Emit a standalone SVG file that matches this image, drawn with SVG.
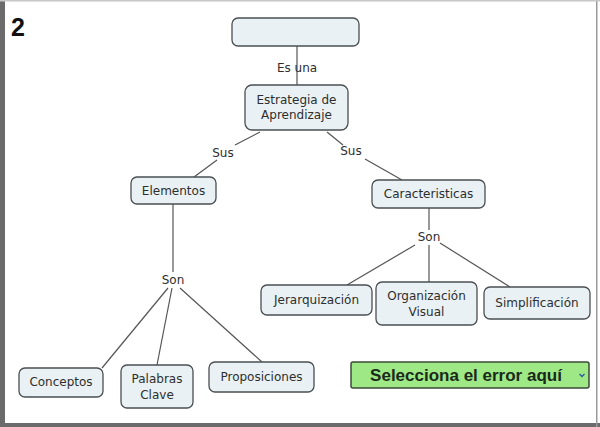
<svg xmlns="http://www.w3.org/2000/svg" width="600" height="427" viewBox="0 0 600 427">
<style>
.node rect{fill:#e9f1f4;stroke:#4a4f52;stroke-width:1.3}
.node text,.lbl{font-family:"DejaVu Sans",Verdana,sans-serif;font-size:12px;fill:#2e2e2e;text-anchor:middle}
.conn line{stroke:#555;stroke-width:1.2}
</style>
<rect x="0" y="0" width="600" height="427" fill="#fff"/>
<rect x="0" y="0" width="5" height="427" fill="#6b6b6b"/>
<rect x="0" y="423" width="600" height="4" fill="#6b6b6b"/>
<rect x="596" y="0" width="1.5" height="427" fill="#9a9a9a"/>
<rect x="0" y="0" width="600" height="1.5" fill="#c8c8c8"/>
<text x="11" y="36" font-family="Liberation Sans,Arial,sans-serif" font-size="25" font-weight="bold" fill="#111">2</text>
<g id="connectors" class="conn">
<line x1="297" y1="46" x2="297" y2="85"/>
<line x1="260" y1="132" x2="235" y2="145"/>
<line x1="217" y1="160" x2="194" y2="177"/>
<line x1="327" y1="132" x2="343" y2="145"/>
<line x1="365" y1="159" x2="402" y2="180"/>
<line x1="173" y1="204" x2="173" y2="272"/>
<line x1="168" y1="288" x2="102" y2="368"/>
<line x1="172" y1="288" x2="157" y2="365"/>
<line x1="180" y1="288" x2="262" y2="362"/>
<line x1="429" y1="208" x2="429" y2="230"/>
<line x1="415" y1="245" x2="347" y2="285"/>
<line x1="429" y1="245" x2="429" y2="282"/>
<line x1="440" y1="243" x2="510" y2="287"/>
<text class="lbl" x="297" y="72">Es una</text>
<text class="lbl" x="223" y="157">Sus</text>
<text class="lbl" x="351" y="155">Sus</text>
<text class="lbl" x="173" y="284">Son</text>
<text class="lbl" x="429" y="241">Son</text>
</g>
<g id="n-top" class="node"><rect x="232" y="18" width="127" height="28" rx="6"/></g>
<g id="n-estrategia" class="node"><rect x="245" y="85" width="103" height="45" rx="7"/><text x="296.5" y="104">Estrategia de</text><text x="296.5" y="119">Aprendizaje</text></g>
<g id="n-elementos" class="node"><rect x="131" y="177" width="85" height="27" rx="6"/><text x="173.5" y="195">Elementos</text></g>
<g id="n-caracteristicas" class="node"><rect x="372" y="180" width="113" height="28" rx="6"/><text x="428.5" y="198">Caracteristicas</text></g>
<g id="n-jerarquizacion" class="node"><rect x="261" y="285" width="111" height="30" rx="6"/><text x="316.5" y="304">Jerarquización</text></g>
<g id="n-organizacion" class="node"><rect x="376" y="282" width="101" height="43" rx="6"/><text x="426.5" y="300">Organización</text><text x="426.5" y="316">Visual</text></g>
<g id="n-simplificacion" class="node"><rect x="484" y="287" width="106" height="32" rx="6"/><text x="537" y="307">Simplificación</text></g>
<g id="n-conceptos" class="node"><rect x="19" y="368" width="84" height="29" rx="6"/><text x="61" y="386">Conceptos</text></g>
<g id="n-palabras" class="node"><rect x="121" y="365" width="72" height="43" rx="6"/><text x="157" y="383">Palabras</text><text x="157" y="399">Clave</text></g>
<g id="n-proposiciones" class="node"><rect x="209" y="362" width="105" height="30" rx="6"/><text x="261.5" y="381">Proposiciones</text></g>
<g id="dropdown">
<rect x="351" y="362" width="238" height="26" rx="2" fill="#9ee886" stroke="#3d4a3a" stroke-width="1.5"/>
<text x="466" y="381" font-family="Liberation Sans,Arial,sans-serif" font-size="17" font-weight="bold" fill="#1a2a1a" text-anchor="middle">Selecciona el error aquí</text>
<path d="M579.5 374 l2.5 2.5 l2.5 -2.5" fill="none" stroke="#2a5aa0" stroke-width="1.3"/>
</g>
</svg>
